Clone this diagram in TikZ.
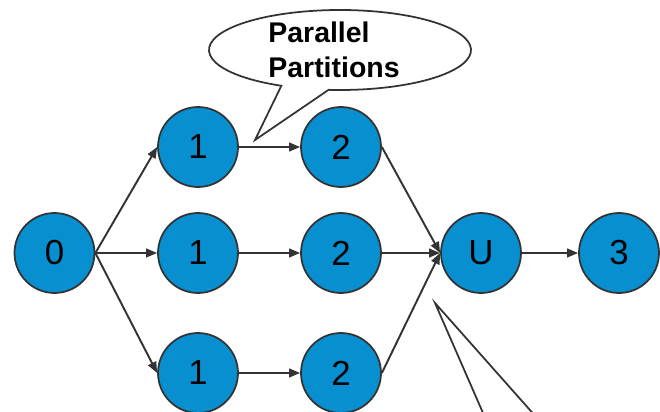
\documentclass[tikz,border=0pt]{standalone}
\usepackage{fontspec}
\setmainfont{Liberation Sans}
\usetikzlibrary{arrows.meta}

\definecolor{partblue}{RGB}{8,143,208}
\definecolor{edgegray}{RGB}{51,51,51}

\tikzset{
  vertex/.style={circle, draw=edgegray, line width=1pt, fill=partblue,
    minimum size=1.6cm, inner sep=0pt, font=\fontsize{19.8}{24}\selectfont},
  flow/.style={draw=edgegray, line width=1.1pt,
    -{Triangle[length=6.3pt,width=5pt]}},
  bubble/.style={draw=edgegray, line width=1pt, fill=white},
}

\begin{document}
\begin{tikzpicture}[x=0.02cm,y=-0.02cm]

\useasboundingbox (0,0) rectangle (660,412);
\clip (0,0) rectangle (660,412);

%% the stages
\node [vertex] (src) at (54.5,253) {0};
\node [vertex] (pa1) at (198,147) {1};
\node [vertex] (pb1) at (198,253) {1};
\node [vertex] (pc1) at (198,373) {1};
\node [vertex] (pa2) at (341,147) {2};
\node [vertex] (pb2) at (341,253) {2};
\node [vertex] (pc2) at (341,373) {2};
\node [vertex] (uni) at (481,253) {U};
\node [vertex] (out) at (619,253) {3};

%% fan out from 0
\draw [flow] (src.east) -- (pa1.west);
\draw [flow] (src.east) -- (pb1.west);
\draw [flow] (src.east) -- (pc1.west);

%% the partitions
\draw [flow] (pa1) -- (pa2);
\draw [flow] (pb1) -- (pb2);
\draw [flow] (pc1) -- (pc2);

%% merge into U
\draw [flow] (pa2.east) -- (uni.west);
\draw [flow] (pb2.east) -- (uni.west);
\draw [flow] (pc2.east) -- (uni.west);
\draw [flow] (uni) -- (out);

%% the speech bubble over the top row
\coordinate (tipa) at (255,140);
\draw [bubble] (340,50) ++(116.6:131 and 40)
  arc [start angle=116.6, end angle=455, x radius=131, y radius=40]
  -- (tipa) -- cycle;
\node [align=left, inner sep=0pt, font=\bfseries\fontsize{16.2}{19.6}\selectfont]
  (note) at (334,50) {Parallel\\Partitions};

%% second bubble, only its tail shows
\coordinate (tipb) at (435,303);
\draw [bubble, fill=none] (497,445) -- (tipb) -- (561,445);

\end{tikzpicture}
\end{document}
